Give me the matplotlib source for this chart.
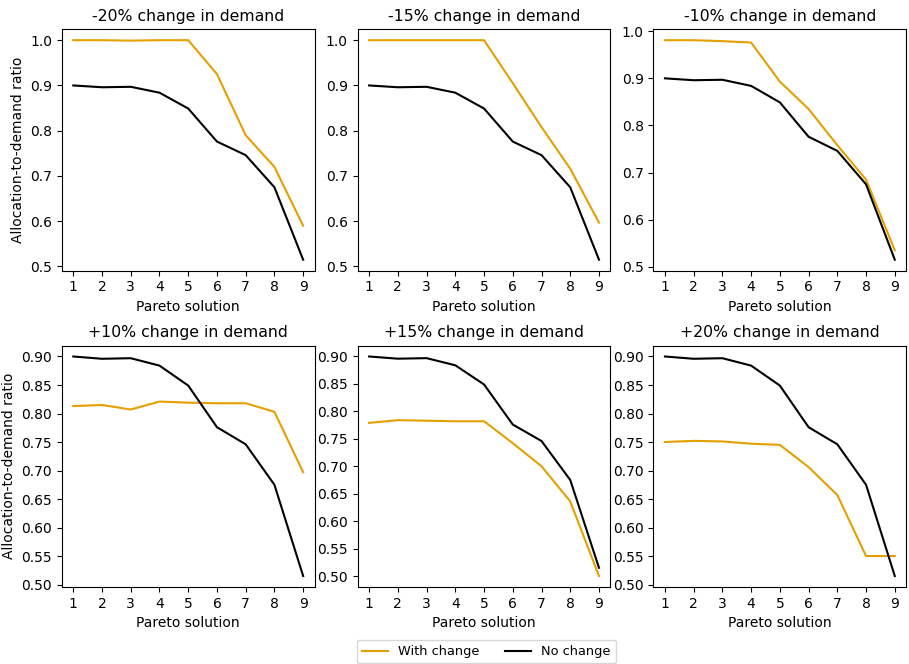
import matplotlib
matplotlib.use("Agg")
import matplotlib.pyplot as plt
import numpy as np

solutions = np.arange(1, 10)

no_change = [0.900, 0.896, 0.897, 0.884, 0.849, 0.776, 0.746, 0.675, 0.515]

titles = ["-20% change in demand", "-15% change in demand", "-10% change in demand",
          "+10% change in demand", "+15% change in demand", "+20% change in demand"]

minus_20 = [1.000, 1.000, 0.999, 1.000, 1.000, 0.925, 0.790, 0.720, 0.590]
minus_15 = [1.000, 1.000, 1.000, 1.000, 1.000, 0.905, 0.808, 0.716, 0.597]
minus_10 = [0.981, 0.981, 0.979, 0.976, 0.893, 0.835, 0.758, 0.685, 0.535]
plus_10 = [0.813, 0.815, 0.807, 0.821, 0.819, 0.818, 0.818, 0.803, 0.697]
plus_15 = [0.779, 0.784, 0.783, 0.782, 0.782, 0.742, 0.700, 0.636, 0.500]
plus_20 = [0.750, 0.752, 0.751, 0.747, 0.745, 0.706, 0.657, 0.550, 0.550]

with_change = [minus_20, minus_15, minus_10, plus_10, plus_15, plus_20]

fig, axes = plt.subplots(2, 3, figsize=(9.09, 6.64), dpi=100)

for i, ax in enumerate(axes.flat):
    ax.plot(solutions, with_change[i], color="#e69f00", label="With change")
    ax.plot(solutions, no_change, color="black", label="No change")
    ax.set_title(titles[i], fontsize=11.3)
    ax.set_xticks(solutions)
    ax.set_xlabel("Pareto solution")
    if i % 3 == 0:
        ax.set_ylabel("Allocation-to-demand ratio")
    if i >= 3:
        ax.set_yticks(np.arange(0.50, 0.91, 0.05))
        ax.yaxis.set_major_formatter(matplotlib.ticker.FormatStrFormatter("%.2f"))

plt.subplots_adjust(left=0.068, right=0.997, top=0.956, bottom=0.116, wspace=0.17, hspace=0.31)

# legend sits under the middle column
handles, labels = axes[0, 0].get_legend_handles_labels()
fig.legend(handles, labels, loc="upper center", ncol=2, fontsize=9.3,
           bbox_to_anchor=(0.535, 0.046))

plt.savefig("out.png")
